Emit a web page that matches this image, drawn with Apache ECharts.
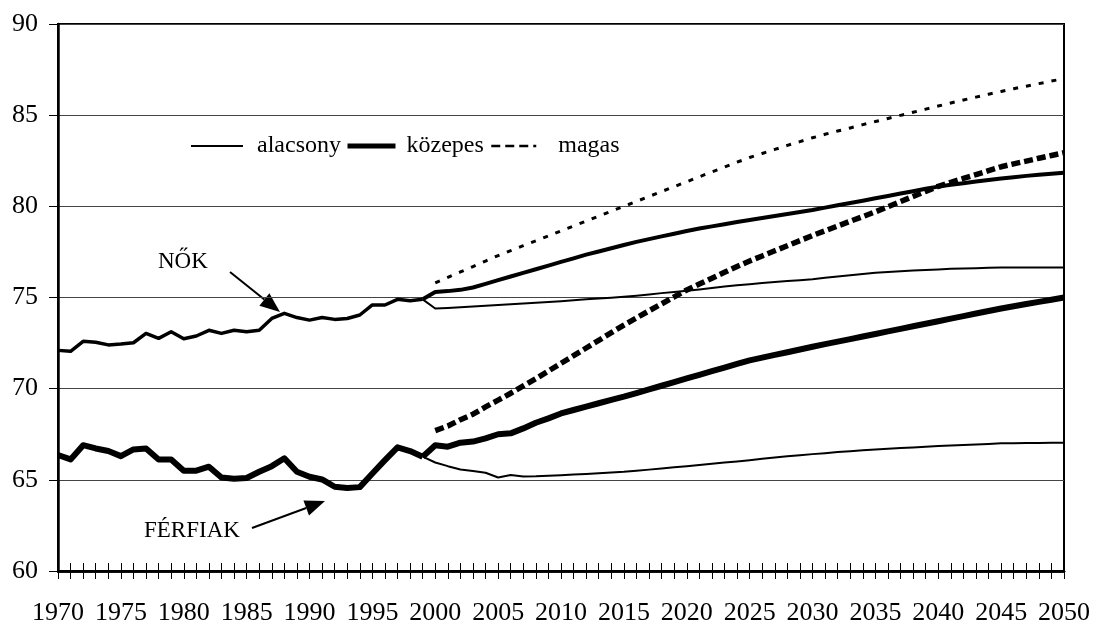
<!DOCTYPE html>
<html>
<head>
<meta charset="utf-8">
<script src="https://cdn.jsdelivr.net/npm/echarts@6/dist/echarts.min.js"></script>
<style>
  html, body { margin: 0; padding: 0; background: #fff; }
  #chart { width: 1093px; height: 622px; }
</style>
</head>
<body>
<div id="chart"></div>
<script>
// years on the category axis
const years = []
for (let y = 1970; y <= 2050; y++) years.push(String(y))

// observed values 1970-1999
const womenHist = [
  72.1, 72.05, 72.6, 72.55, 72.4, 72.45, 72.52, 73.03, 72.76, 73.12,
  72.74, 72.89, 73.2, 73.03, 73.2, 73.12, 73.2, 73.85, 74.13, 73.9,
  73.76, 73.9, 73.8, 73.85, 74.04, 74.59, 74.59, 74.9, 74.82, 74.9
]
const menHist = [
  66.36, 66.12, 66.9, 66.72, 66.58, 66.3, 66.67, 66.72, 66.12, 66.12,
  65.5, 65.5, 65.72, 65.13, 65.06, 65.1, 65.44, 65.75, 66.18, 65.44,
  65.17, 65.02, 64.62, 64.55, 64.6, 65.35, 66.08, 66.78, 66.58, 66.27
]

// projections 2000-2050
const womenLow = [
  74.4, 74.43, 74.47, 74.51, 74.55, 74.59, 74.63, 74.67, 74.71, 74.75,
  74.8, 74.85, 74.9, 74.94, 74.99, 75.04, 75.1, 75.17, 75.24, 75.3,
  75.37, 75.44, 75.52, 75.6, 75.67, 75.73, 75.79, 75.85, 75.9, 75.95,
  76.0, 76.08, 76.15, 76.22, 76.29, 76.36, 76.4, 76.44, 76.48, 76.51,
  76.54, 76.57, 76.59, 76.61, 76.63, 76.65, 76.65, 76.65, 76.65, 76.65, 76.65
]
const womenMid = [
  75.3, 75.35, 75.42, 75.55, 75.75, 75.95, 76.15, 76.35, 76.55, 76.75,
  76.95, 77.15, 77.35, 77.52, 77.7, 77.88, 78.05, 78.2, 78.35, 78.5,
  78.65, 78.78, 78.9, 79.02, 79.14, 79.25, 79.36, 79.47, 79.58, 79.69,
  79.8, 79.93, 80.06, 80.18, 80.31, 80.44, 80.57, 80.7, 80.83, 80.96,
  81.08, 81.18, 81.27, 81.36, 81.45, 81.53, 81.6, 81.67, 81.73, 81.79, 81.84
]
const womenHigh = [
  75.8, 76.1, 76.4, 76.7, 77.0, 77.3, 77.57, 77.84, 78.11, 78.38,
  78.65, 78.92, 79.19, 79.46, 79.73, 80.0, 80.27, 80.54, 80.81, 81.08,
  81.35, 81.62, 81.89, 82.15, 82.42, 82.68, 82.9, 83.12, 83.34, 83.55,
  83.76, 83.95, 84.13, 84.3, 84.48, 84.65, 84.82, 84.99, 85.16, 85.33,
  85.5, 85.67, 85.83, 85.99, 86.15, 86.3, 86.45, 86.59, 86.73, 86.87, 87.0
]
const menLow = [
  65.95, 65.75, 65.57, 65.48, 65.39, 65.13, 65.26, 65.18, 65.19, 65.22,
  65.25, 65.29, 65.32, 65.36, 65.4, 65.44, 65.5, 65.56, 65.62, 65.69,
  65.75, 65.82, 65.88, 65.95, 66.01, 66.08, 66.15, 66.22, 66.29, 66.35,
  66.41, 66.46, 66.52, 66.57, 66.62, 66.67, 66.71, 66.75, 66.78, 66.82,
  66.85, 66.88, 66.91, 66.94, 66.97, 67.0, 67.01, 67.02, 67.02, 67.03, 67.03
]
const menMid = [
  66.9, 66.82, 67.04, 67.1, 67.27, 67.5, 67.55, 67.82, 68.13, 68.37,
  68.64, 68.83, 69.02, 69.2, 69.38, 69.56, 69.76, 69.96, 70.16, 70.36,
  70.56, 70.76, 70.96, 71.16, 71.36, 71.55, 71.7, 71.85, 72.0, 72.15,
  72.3, 72.44, 72.58, 72.72, 72.86, 73.0, 73.14, 73.28, 73.42, 73.56,
  73.7, 73.84, 73.98, 74.12, 74.26, 74.4, 74.52, 74.64, 74.76, 74.88, 75.0
]
const menHigh = [
  67.7, 67.95, 68.3, 68.6, 69.0, 69.37, 69.75, 70.15, 70.55, 70.97,
  71.39, 71.81, 72.23, 72.65, 73.07, 73.49, 73.88, 74.27, 74.65, 75.03,
  75.41, 75.74, 76.06, 76.38, 76.7, 77.0, 77.28, 77.56, 77.84, 78.12,
  78.4, 78.66, 78.92, 79.18, 79.44, 79.7, 79.98, 80.26, 80.54, 80.82,
  81.1, 81.32, 81.53, 81.74, 81.96, 82.17, 82.33, 82.48, 82.64, 82.79, 82.94
]

const scenarioNames = ['alacsony', 'közepes', 'magas']

const FONT = '"Liberation Serif", "Times New Roman", serif'
const nulls = n => new Array(n).fill(null)

// low/mid start from the last observed year, high starts in 2000
const fromLast = (hist, proj) => nulls(hist.length - 1).concat([hist[hist.length - 1]], proj)
const from2000 = (hist, proj) => nulls(hist.length).concat(proj)

const lineSeries = (name, data, width, type) => ({
  name,
  type: 'line',
  data,
  symbol: 'none',
  showSymbol: false,
  connectNulls: false,
  lineStyle: { color: '#000', width, type, cap: 'butt', join: 'round' },
  emphasis: { disabled: true },
  z: 3
})

const chart = echarts.init(document.getElementById('chart'), null, { renderer: 'canvas' })

const legendItem = (name, left, lineStyle, pad) => ({
  left,
  top: 134,
  padding: 0,
  itemWidth: lineStyle.w,
  itemHeight: 14,
  selectedMode: false,
  textStyle: { fontFamily: FONT, fontSize: 24, color: '#000', padding: [7, 0, 0, pad] },
  data: [{
    name,
    itemStyle: { opacity: 0 },
    lineStyle: { color: '#000', width: lineStyle.width, type: lineStyle.type, opacity: 1 }
  }]
})

// arrow: shaft + filled head, in pixels
function arrow(x1, y1, x2, y2) {
  const a = Math.atan2(y2 - y1, x2 - x1)
  const L = 20, W = 8
  const bx = x2 - L * Math.cos(a), by = y2 - L * Math.sin(a)
  return [
    { type: 'line', shape: { x1, y1, x2: bx, y2: by }, style: { stroke: '#000', lineWidth: 2 } },
    {
      type: 'polygon',
      shape: { points: [[x2, y2], [bx - W * Math.sin(a), by + W * Math.cos(a)], [bx + W * Math.sin(a), by - W * Math.cos(a)]] },
      style: { fill: '#000' }
    }
  ]
}

const axisBase = {
  type: 'category',
  data: years,
  boundaryGap: false,
  position: 'bottom',
  axisLine: { show: true, onZero: false, lineStyle: { color: '#000', width: 2.5 } },
  splitLine: { show: false }
}

const option = {
  animation: false,
  backgroundColor: '#fff',
  grid: {
    left: 58, right: 29, top: 24, bottom: 51,
    outerBoundsMode: 'none',
    show: true, borderColor: '#000', borderWidth: 2, backgroundColor: 'transparent'
  },
  legend: [
    legendItem(scenarioNames[0], 190, { w: 52, width: 2, type: 'solid' }, 9),
    legendItem(scenarioNames[1], 345, { w: 48, width: 5, type: 'solid' }, 6),
    legendItem(scenarioNames[2], 490, { w: 45, width: 2.5, type: [9, 5] }, 17)
  ],
  xAxis: [
    Object.assign({}, axisBase, {
      axisTick: { show: true, interval: 0, length: 8, lineStyle: { color: '#000', width: 1 } },
      axisLabel: { interval: 4, margin: 29, fontFamily: FONT, fontSize: 26, color: '#000' }
    }),
    Object.assign({}, axisBase, {
      axisTick: { show: true, interval: 0, inside: true, length: 8, lineStyle: { color: '#000', width: 1 } },
      axisLabel: { show: false }
    })
  ],
  yAxis: {
    type: 'value',
    min: 60,
    max: 90,
    interval: 5,
    axisLine: { show: true, lineStyle: { color: '#000', width: 2.5 } },
    axisTick: { show: true, length: 9, lineStyle: { color: '#000', width: 1 } },
    axisLabel: { margin: 20, fontFamily: FONT, fontSize: 26, color: '#000' },
    splitLine: { show: true, lineStyle: { color: '#444', width: 1 } }
  },
  series: [
    lineSeries('NŐK', womenHist, 3.5, 'solid'),
    lineSeries('FÉRFIAK', menHist, 6, 'solid'),
    lineSeries(scenarioNames[0], fromLast(womenHist, womenLow), 2, 'solid'),
    lineSeries(scenarioNames[1], fromLast(womenHist, womenMid), 4, 'solid'),
    lineSeries(scenarioNames[2], from2000(womenHist, womenHigh), 3, [5, 8]),
    lineSeries(scenarioNames[0], fromLast(menHist, menLow), 2, 'solid'),
    lineSeries(scenarioNames[1], fromLast(menHist, menMid), 6, 'solid'),
    lineSeries(scenarioNames[2], from2000(menHist, menHigh), 5.5, [9, 4])
  ],
  graphic: [
    { type: 'text', left: 158, top: 250, style: { text: 'NŐK', font: '23px ' + FONT, fill: '#000' } },
    { type: 'text', left: 144, top: 519, style: { text: 'FÉRFIAK', font: '23px ' + FONT, fill: '#000' } },
    ...arrow(230, 272, 280, 312),
    ...arrow(252, 528, 325, 501)
  ]
}

chart.setOption(option)
</script>
</body>
</html>
